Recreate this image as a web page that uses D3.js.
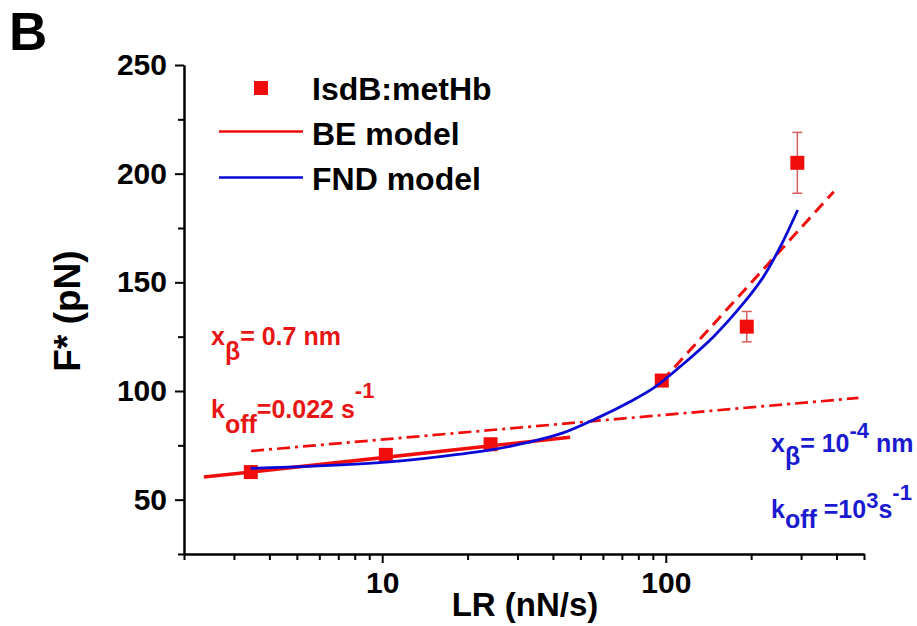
<!DOCTYPE html>
<html>
<head>
<meta charset="utf-8">
<script src="https://cdn.jsdelivr.net/npm/d3@7"></script>
<style>
  html, body { margin: 0; padding: 0; background: #ffffff; }
  svg { display: block; }
  text { font-family: Arial, "Liberation Sans", sans-serif; font-weight: bold; }
</style>
</head>
<body>
<svg id="chart" width="917" height="626"></svg>
<script>
// ---------------- data ----------------
const lr        = [3.44, 10.3, 24.1, 96.8, 193, 291];
const force     = [62.7, 70.6, 75.5, 104.8, 129.6, 205];
const forceErr  = [2, 2, 2, 2, 7, 14];

// BE model, low loading-rate fit (solid red)
const beLowLR = [2.35, 46];
const beLowF  = [60.4, 78.7];
// BE model, high loading-rate fit (dashed red)
const beHighLR = [96.8, 391];
const beHighF  = [104.5, 191.7];
// BE extrapolation (dash-dot red)
const beDDLR = [3.45, 478];
const beDDF  = [72.4, 96.8];
// FND model (blue)
const fndLR = [3.44, 5.7, 10.3, 16, 24.1, 32.3, 43.4, 57, 74.8, 90.4, 112.3, 147.3, 187.9, 221, 253.5, 291.8];
const fndF  = [64.4, 65.4, 67.3, 69.8, 72.9, 76.2, 80.7, 87.4, 95.1, 101.3, 111.2, 125.0, 140.4, 152.6, 166.4, 183.3];

const yMajor = [50, 100, 150, 200, 250];
const yMinor = [25, 75, 125, 175, 225];
const xMajor = [10, 100];
const xMinor = [2, 3, 4, 5, 6, 7, 8, 9, 20, 30, 40, 50, 60, 70, 80, 90, 200, 300, 400, 500];

const legendLabels = ["IsdB:metHb", "BE model", "FND model"];

// ---------------- layout ----------------
const RED = "#f20d0d", BLUE = "#0a0ad6", ERR = "#d96060", RED_TXT = "#e81515", BLUE_TXT = "#1a1ad0";
const svg = d3.select("#chart");
const x = d3.scaleLog().domain([2, 500]).range([184, 864]);
const y = d3.scaleLinear().domain([25, 250]).range([554, 65]);

// axes
function styleAxis(g) {
  g.select(".domain").attr("stroke", "#000").attr("stroke-width", 2);
  g.selectAll(".tick line").attr("stroke", "#000").attr("stroke-width", 2);
  g.selectAll(".tick text").attr("fill", "#000").style("font-size", "30px")
    .style("font-family", "Arial, 'Liberation Sans', sans-serif").style("font-weight", "bold");
}
svg.append("g").attr("transform", "translate(184,0)")
  .call(d3.axisLeft(y).tickValues(yMinor).tickSize(6).tickFormat("").tickSizeOuter(0))
  .call(styleAxis);
svg.append("g").attr("transform", "translate(184,0)")
  .call(d3.axisLeft(y).tickValues(yMajor).tickSize(9).tickPadding(8).tickFormat(d3.format("d")).tickSizeOuter(0))
  .call(styleAxis);
svg.append("g").attr("transform", "translate(0,554)")
  .call(d3.axisBottom(x).tickValues(xMinor).tickSize(6).tickFormat("").tickSizeOuter(0))
  .call(styleAxis);
svg.append("g").attr("transform", "translate(0,554)")
  .call(d3.axisBottom(x).tickValues(xMajor).tickSize(9).tickPadding(9).tickFormat(d3.format("d")).tickSizeOuter(0))
  .call(styleAxis);

// axis titles
svg.append("text").attr("x", 525).attr("y", 616).attr("text-anchor", "middle")
  .style("font-size", "33px").attr("fill", "#000").text("LR (nN/s)");
svg.append("text").attr("transform", "translate(80,311) rotate(-90)").attr("text-anchor", "middle")
  .style("font-size", "37px").attr("fill", "#000").text("F* (pN)");

// panel letter
svg.append("text").attr("x", 9).attr("y", 50).style("font-size", "53px").attr("fill", "#000").text("B");

// ---------------- marks ----------------
const pts = lr.map((d, i) => ({ x: d, y: force[i], e: forceErr[i] }));
const eb = svg.append("g");
pts.forEach(p => {
  eb.append("line").attr("x1", x(p.x)).attr("x2", x(p.x)).attr("y1", y(p.y - p.e)).attr("y2", y(p.y + p.e))
    .attr("stroke", ERR).attr("stroke-width", 1.5);
  [p.y - p.e, p.y + p.e].forEach(v => eb.append("line").attr("x1", x(p.x) - 5).attr("x2", x(p.x) + 5)
    .attr("y1", y(v)).attr("y2", y(v)).attr("stroke", ERR).attr("stroke-width", 1.5));
});
svg.append("g").selectAll("rect").data(pts).join("rect")
  .attr("x", d => x(d.x) - 7).attr("y", d => y(d.y) - 7).attr("width", 14).attr("height", 14).attr("fill", RED);

const line = d3.line().x(d => x(d[0])).y(d => y(d[1]));
const zip = (a, b) => a.map((v, i) => [v, b[i]]);

svg.append("path").attr("d", line(zip(beDDLR, beDDF))).attr("fill", "none").attr("stroke", RED)
  .attr("stroke-width", 2.7).attr("stroke-dasharray", "13,5,3,5");
svg.append("path").attr("d", line(zip(beLowLR, beLowF))).attr("fill", "none").attr("stroke", RED)
  .attr("stroke-width", 3.5);
svg.append("path").attr("d", line(zip(beHighLR, beHighF))).attr("fill", "none").attr("stroke", RED)
  .attr("stroke-width", 3).attr("stroke-dasharray", "12,7");
svg.append("path").attr("d", line.curve(d3.curveCatmullRom)(zip(fndLR, fndF))).attr("fill", "none")
  .attr("stroke", BLUE).attr("stroke-width", 2.8);

// ---------------- legend ----------------
const lg = svg.append("g");
lg.append("rect").attr("x", 254).attr("y", 81).attr("width", 14).attr("height", 14).attr("fill", RED);
lg.append("line").attr("x1", 219).attr("x2", 303).attr("y1", 131.5).attr("y2", 131.5).attr("stroke", RED).attr("stroke-width", 2.5);
lg.append("line").attr("x1", 219).attr("x2", 303).attr("y1", 177.5).attr("y2", 177.5).attr("stroke", BLUE).attr("stroke-width", 2.5);
[100, 145, 190].forEach((by, i) => lg.append("text").attr("x", 312).attr("y", by)
  .style("font-size", "32px").attr("fill", "#000").text(legendLabels[i]));

// ---------------- annotations ----------------
function richText(x0, y0, color, parts) {
  const t = svg.append("text").attr("x", x0).attr("y", y0).attr("fill", color).style("font-size", "25px");
  parts.forEach(p => t.append("tspan").attr("dy", p.dy || 0).style("font-size", (p.fs || 25) + "px").text(p.t));
}
richText(211, 345, RED_TXT, [{ t: "x" }, { t: "β", dy: 15 }, { t: "= 0.7 nm", dy: -15 }]);
richText(211, 418, RED_TXT, [{ t: "k" }, { t: "off", dy: 15 }, { t: "=0.022 s", dy: -15 }, { t: "-1", dy: -20, fs: 22 }]);
richText(771, 452, BLUE_TXT, [{ t: "x" }, { t: "β", dy: 13 }, { t: "= 10", dy: -13 }, { t: "-4", dy: -14, fs: 22 }, { t: " nm", dy: 14 }]);
richText(771, 518, BLUE_TXT, [{ t: "k" }, { t: "off", dy: 10 }, { t: " =10", dy: -10 }, { t: "3", dy: -10, fs: 22 }, { t: "s", dy: 10 }, { t: "-1", dy: -18, fs: 22 }]);
</script>
</body>
</html>
